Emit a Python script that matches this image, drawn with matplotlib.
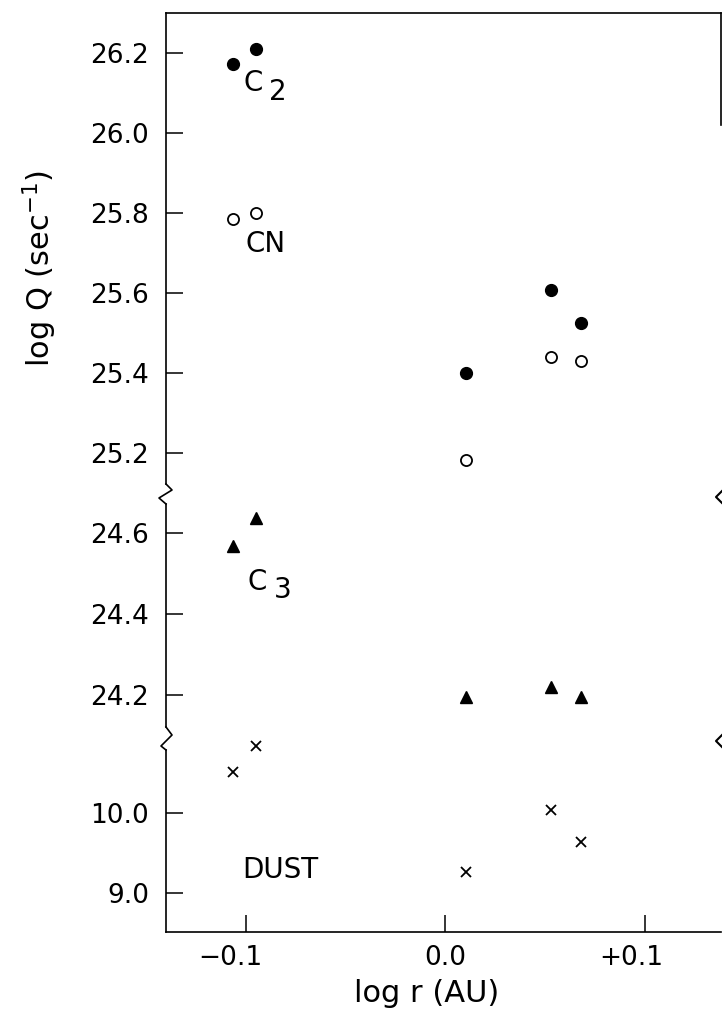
import matplotlib
matplotlib.use("Agg")
import matplotlib.pyplot as plt
from matplotlib.lines import Line2D
import matplotlib.transforms as mtransforms

plt.rcParams['font.family'] = ['DejaVu Sans']

# ---- data ----
log_r = [-0.1063, -0.0947, 0.0105, 0.053, 0.0677]
c2 = [26.171, 26.209, 25.399, 25.608, 25.525]
cn = [25.784, 25.799, 25.183, 25.439, 25.431]
c3 = [24.567, 24.636, 24.194, 24.218, 24.194]
dust = [10.52, 10.845, 9.27, 10.04, 9.645]

top_ticks = [26.2, 26.0, 25.8, 25.6, 25.4, 25.2]
mid_ticks = [24.6, 24.4, 24.2]
bot_ticks = [10.0, 9.0]
x_ticks = [-0.1, 0.0, 0.1]
x_tick_labels = ['\u22120.1', '0.0', '+0.1']

W, H = 722, 1028
fig = plt.figure(figsize=(W / 100, H / 100), dpi=100)

def fx(px):
    return px / W

def fy(py):
    return 1 - py / H

left_px, right_px = 166, 721
segs = [(13, 484, (25.123, 26.299)), (504, 727, (24.120, 24.671)), (750, 932.3, (8.5125, 10.791))]
axes = []
for (t, b, yl) in segs:
    ax = fig.add_axes([fx(left_px), fy(b), fx(right_px - left_px), (b - t) / H])
    ax.set_xlim(-0.140, 0.138)
    ax.set_ylim(*yl)
    for s in ['top', 'bottom', 'right']:
        ax.spines[s].set_visible(False)
    ax.spines['left'].set_linewidth(1.2)
    ax.tick_params(axis='y', direction='in', length=12, width=1.1, pad=12, labelsize=19)
    ax.tick_params(axis='x', bottom=False, labelbottom=False)
    ax.patch.set_alpha(0)
    axes.append(ax)

ax_top, ax_mid, ax_bot = axes
ax_top.spines['top'].set_visible(True)
ax_top.spines['top'].set_linewidth(1.2)
ax_bot.spines['bottom'].set_visible(True)
ax_bot.spines['bottom'].set_linewidth(1.2)

ax_top.set_yticks(top_ticks)
ax_top.set_yticklabels([f'{v:.1f}' for v in top_ticks])
ax_mid.set_yticks(mid_ticks)
ax_mid.set_yticklabels([f'{v:.1f}' for v in mid_ticks])
ax_bot.set_yticks(bot_ticks)
ax_bot.set_yticklabels([f'{v:.1f}' for v in bot_ticks])

ax_bot.tick_params(axis='x', bottom=True, labelbottom=True, direction='in',
                   length=12, width=1.1, pad=9, labelsize=19)
ax_bot.set_xticks(x_ticks)
ax_bot.set_xticklabels(x_tick_labels)
for lab, dx in zip(ax_bot.get_xticklabels(), [-16, 0, -14]):
    lab.set_transform(lab.get_transform() + mtransforms.ScaledTranslation(dx / 100, 0, fig.dpi_scale_trans))

# ---- markers ----
ax_top.plot(log_r, c2, 'o', color='black', markersize=8.5, clip_on=False)
ax_top.plot(log_r, cn, 'o', markerfacecolor='white', markeredgecolor='black',
            markeredgewidth=1.3, markersize=8, clip_on=False)
ax_mid.plot(log_r, c3, '^', color='black', markersize=8.5, clip_on=False)
ax_bot.plot(log_r, dust, 'x', color='black', markersize=7, markeredgewidth=1.3, clip_on=False)

# ---- species labels ----
fs = 20
ax_top.text(-0.1012, 26.105, 'C', fontsize=fs, va='baseline', ha='left')
ax_top.text(-0.0885, 26.082, '2', fontsize=fs, va='baseline', ha='left')
ax_top.text(-0.1000, 25.703, 'CN', fontsize=fs, va='baseline', ha='left')
ax_mid.text(-0.0990, 24.459, 'C', fontsize=fs, va='baseline', ha='left')
ax_mid.text(-0.0860, 24.439, '3', fontsize=fs, va='baseline', ha='left')
ax_bot.text(-0.1018, 9.191, 'DUST', fontsize=fs, va='baseline', ha='left')

# ---- axis labels ----
fig.text(fx(40), fy(268), 'log Q (sec$^{-1}$)', rotation=90, ha='center', va='center', fontsize=22)
fig.text(fx(427), fy(993), 'log r (AU)', ha='center', va='center', fontsize=22)

# ---- axis break marks (decorations) ----
def zig(pts, lw=1.2):
    xs = [fx(p[0]) for p in pts]
    ys = [fy(p[1]) for p in pts]
    fig.add_artist(Line2D(xs, ys, transform=fig.transFigure, color='black', lw=lw))

zig([(166, 484), (172, 490), (159, 498), (166, 504)])
zig([(166, 727), (172, 735), (161, 746), (166, 750)])
zig([(722, 491), (716, 497), (722, 503)], lw=1.5)
zig([(722, 735), (716, 741), (722, 747)], lw=1.5)
# partial right frame edge visible at the top
zig([(721, 13), (721, 125)], lw=1.2)

fig.savefig('out.png', dpi=100)
